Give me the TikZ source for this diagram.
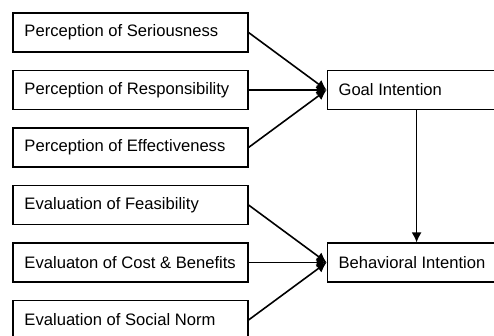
\documentclass[tikz,border=0pt]{standalone}
\usepackage{fontspec}
\setmainfont{Liberation Sans}
\usetikzlibrary{positioning,arrows.meta}

\begin{document}
\begin{tikzpicture}[
    box/.style={draw,line width=0.55pt,minimum height=19.5pt,text width=106pt,inner xsep=5.75pt,align=flush left,font=\fontsize{8.3}{10}\selectfont},
    rbox/.style={box,text width=78pt},
    >={Latex[length=5pt,width=5pt]},
    node distance=8.7pt]
      \useasboundingbox (0,0) rectangle (247pt,-168pt);
      \node [box] (1) at (65.25pt,-16.25pt) {Perception of Seriousness};
      \node [box,below=of 1] (2) {Perception of Responsibility};
      \node [box,below=of 2] (3) {Perception of Effectiveness};
      \node [box,below=of 3] (4) {Evaluation of Feasibility};
      \node [box,below=of 4] (5) {Evaluaton of Cost \& Benefits};
      \node [box,below=of 5] (6) {Evaluation of Social Norm};
      \node [rbox,right=39pt of 2] (7) {Goal Intention};
      \node [rbox,right=39pt of 5] (8) {Behavioral Intention};

      \draw[->,line width=0.8pt] (1.east) -- (7.west);
      \draw[->,line width=0.8pt] (2.east) -- (7.west);
      \draw[->,line width=0.8pt] (3.east) -- (7.west);
      \draw[->,line width=0.8pt] (4.east) -- (8.west);
      \draw[->,line width=0.8pt] (5.east) -- (8.west);
      \draw[->,line width=0.8pt] (6.east) -- (8.west);
      \draw[->,line width=0.8pt] (7) -- (8);
    \end{tikzpicture}
\end{document}
